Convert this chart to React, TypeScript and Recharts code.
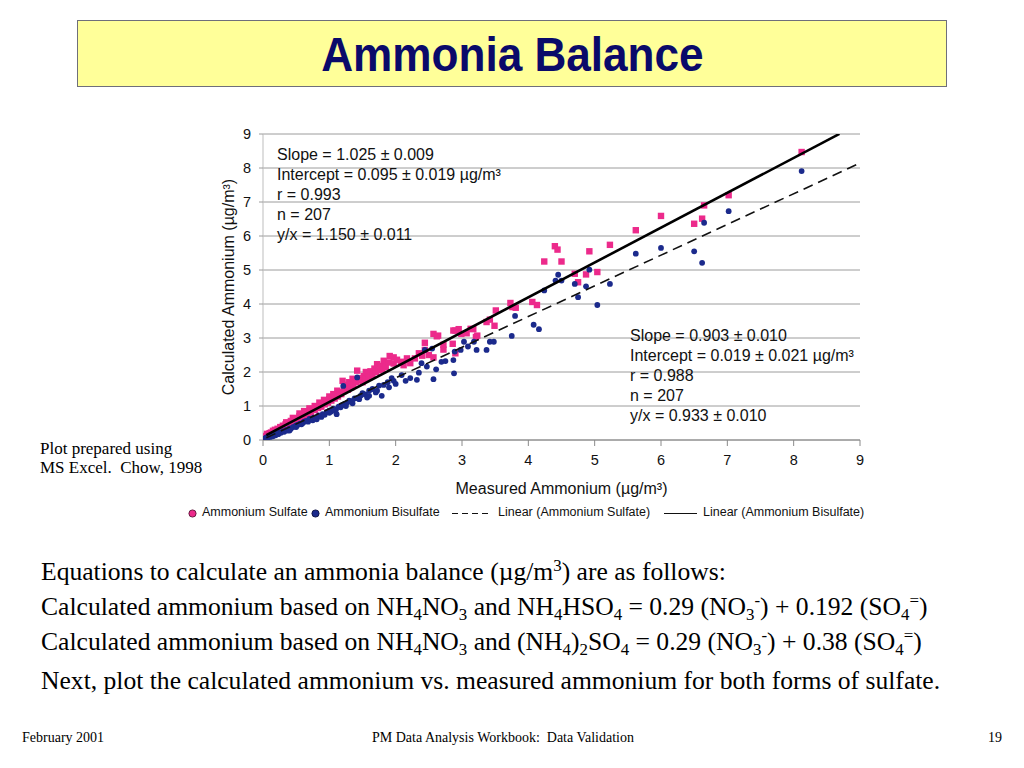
import React from 'react';
import { ScatterChart, Scatter, XAxis, YAxis, CartesianGrid, Legend } from 'recharts';

const SANS = '"Liberation Sans", Arial, sans-serif';
const SERIF = '"Liberation Serif", "Times New Roman", serif';

const PINK = '#EC2A8B';
const BLUE = '#1B2A8C';

const xTicks = [0, 1, 2, 3, 4, 5, 6, 7, 8, 9];
const yTicks = [0, 1, 2, 3, 4, 5, 6, 7, 8, 9];

// Ammonium Sulfate (pink squares) [measured, calculated]
const sulfatePoints: [number, number][] = [
  [0.03, 0.10], [0.05, 0.12], [0.06, 0.18], [0.08, 0.15], [0.10, 0.20], [0.12, 0.22], [0.13, 0.16],
  [0.15, 0.27], [0.17, 0.22], [0.18, 0.30], [0.20, 0.26], [0.22, 0.33], [0.24, 0.30], [0.26, 0.38],
  [0.28, 0.34], [0.30, 0.42], [0.32, 0.38], [0.34, 0.46], [0.35, 0.52], [0.36, 0.44], [0.38, 0.50],
  [0.40, 0.47], [0.42, 0.56], [0.44, 0.52], [0.45, 0.65], [0.46, 0.60], [0.48, 0.57], [0.50, 0.64],
  [0.52, 0.62], [0.55, 0.70], [0.55, 0.78], [0.57, 0.66], [0.60, 0.74], [0.62, 0.71], [0.62, 0.85],
  [0.65, 0.80], [0.68, 0.77], [0.70, 0.86], [0.70, 0.93], [0.72, 0.82], [0.75, 0.90], [0.78, 0.88],
  [0.78, 1.00], [0.80, 0.97], [0.83, 0.94], [0.85, 1.10], [0.86, 1.02], [0.88, 0.98], [0.90, 1.08],
  [0.92, 1.18], [0.93, 1.05], [0.96, 1.14], [0.98, 1.10], [1.00, 1.20], [1.00, 1.28], [1.03, 1.16],
  [1.05, 1.26], [1.06, 1.35], [1.08, 1.22], [1.10, 1.33], [1.12, 1.45], [1.13, 1.28], [1.16, 1.40],
  [1.18, 1.35], [1.20, 1.74], [1.22, 1.44], [1.25, 1.52], [1.25, 1.62], [1.28, 1.48], [1.30, 1.58],
  [1.30, 1.70], [1.33, 1.55], [1.35, 1.80], [1.36, 1.64], [1.40, 1.70], [1.42, 2.04], [1.44, 1.76],
  [1.48, 1.82], [1.50, 1.70], [1.52, 1.88], [1.55, 1.80], [1.55, 2.00], [1.58, 1.95], [1.60, 1.85],
  [1.62, 2.02], [1.65, 1.92], [1.68, 2.10], [1.70, 2.00], [1.72, 2.23], [1.75, 2.05], [1.78, 2.18],
  [1.80, 2.08], [1.82, 2.33], [1.85, 2.15], [1.91, 2.47], [1.90, 2.28], [1.97, 2.43], [1.97, 2.25],
  [2.02, 2.36], [2.08, 2.30], [2.12, 2.20],
  [2.17, 2.40], [2.22, 2.26], [2.29, 2.40], [2.35, 2.55], [2.40, 2.48], [2.44, 2.86], [2.44, 2.65],
  [2.50, 2.50], [2.57, 2.43], [2.57, 3.12], [2.62, 3.05], [2.64, 3.07], [2.72, 2.66], [2.72, 2.80],
  [2.86, 2.83], [2.87, 3.22], [2.90, 2.55], [2.90, 3.22], [2.95, 3.26], [2.99, 3.12], [3.07, 3.14],
  [3.13, 3.27], [3.17, 3.26], [3.21, 3.03], [3.23, 3.07], [3.37, 3.47], [3.42, 3.54], [3.49, 3.36],
  [3.51, 3.81], [3.73, 4.03], [3.76, 3.91], [3.81, 3.89], [4.06, 4.06], [4.13, 3.97],
  [4.24, 5.25], [4.40, 5.70], [4.44, 5.60], [4.50, 5.25], [4.70, 4.89], [4.75, 4.64], [4.87, 4.87],
  [4.92, 5.55], [5.04, 4.94], [5.23, 5.74], [5.62, 6.17], [6.00, 6.59], [6.50, 6.36], [6.62, 6.51],
  [6.65, 6.90], [7.02, 7.20], [8.12, 8.47],
];

// Ammonium Bisulfate (blue dots) [measured, calculated]
const bisulfatePoints: [number, number][] = [
  [0.03, 0.05], [0.05, 0.08], [0.07, 0.06], [0.09, 0.10], [0.11, 0.09], [0.13, 0.13], [0.15, 0.11],
  [0.17, 0.16], [0.19, 0.14], [0.21, 0.19], [0.23, 0.17], [0.25, 0.22], [0.27, 0.21], [0.30, 0.26],
  [0.32, 0.24], [0.35, 0.30], [0.37, 0.28], [0.40, 0.34], [0.40, 0.28], [0.42, 0.33], [0.45, 0.38],
  [0.48, 0.40], [0.50, 0.43], [0.50, 0.38], [0.53, 0.45], [0.56, 0.48], [0.58, 0.46], [0.60, 0.50],
  [0.62, 0.54], [0.65, 0.56], [0.68, 0.54], [0.70, 0.62], [0.73, 0.60], [0.75, 0.58], [0.76, 0.66],
  [0.79, 0.64], [0.81, 0.61], [0.84, 0.72], [0.87, 0.70], [0.88, 0.68], [0.90, 0.76], [0.93, 0.74],
  [0.96, 0.82], [1.00, 0.86], [1.00, 0.80], [1.03, 0.84], [1.06, 0.92], [1.08, 0.88], [1.10, 0.90],
  [1.11, 0.76], [1.14, 0.98], [1.17, 0.96], [1.20, 1.03], [1.21, 1.59], [1.23, 1.06], [1.25, 1.00],
  [1.27, 1.10], [1.30, 1.16], [1.34, 1.14], [1.35, 1.08], [1.38, 1.22], [1.42, 1.84], [1.43, 1.23],
  [1.45, 1.20], [1.47, 1.30], [1.50, 1.38], [1.54, 1.34], [1.57, 1.25], [1.60, 1.45], [1.60, 1.30],
  [1.65, 1.50], [1.70, 1.40], [1.72, 1.45], [1.75, 1.60], [1.79, 1.30], [1.82, 1.62], [1.88, 1.70],
  [1.90, 1.55], [1.94, 1.82], [1.97, 1.74], [2.00, 1.65],
  [2.09, 1.91], [2.15, 1.74], [2.22, 1.82], [2.32, 1.77], [2.35, 1.98], [2.39, 2.26], [2.44, 2.65],
  [2.47, 2.16], [2.55, 2.69], [2.57, 1.79], [2.61, 2.08], [2.69, 2.30], [2.75, 2.32], [2.87, 2.35],
  [2.88, 1.96], [2.89, 2.60], [2.98, 2.65], [3.03, 2.89], [3.09, 2.75], [3.18, 2.89], [3.22, 2.65],
  [3.37, 2.65], [3.42, 2.89], [3.48, 2.89], [3.75, 3.06], [3.80, 3.65], [4.08, 3.39], [4.16, 3.26],
  [4.24, 4.40], [4.41, 4.69], [4.45, 4.86], [4.50, 4.69], [4.70, 4.59], [4.75, 4.20], [4.87, 4.52],
  [4.92, 5.01], [5.04, 3.97], [5.23, 4.59], [5.62, 5.48], [6.00, 5.65], [6.50, 5.55], [6.62, 5.21],
  [6.65, 6.39], [7.02, 6.73], [8.12, 7.91],
];

// Linear fits as printed on the chart
const solidFit = { slope: 1.025, intercept: 0.095, xRange: [0.05, 8.69] };
const dashedFit = { slope: 0.903, intercept: 0.019, xRange: [0.05, 9.0] };

const legendLabels = [
  'Ammonium Sulfate',
  'Ammonium Bisulfate',
  'Linear (Ammonium Sulfate)',
  'Linear (Ammonium Bisulfate)',
];

const statsUpper = [
  'Slope = 1.025 ± 0.009',
  'Intercept = 0.095 ± 0.019 µg/m³',
  'r = 0.993',
  'n = 207',
  'y/x = 1.150 ± 0.011',
];
const statsLower = [
  'Slope = 0.903 ± 0.010',
  'Intercept = 0.019 ± 0.021 µg/m³',
  'r = 0.988',
  'n = 207',
  'y/x = 0.933 ± 0.010',
];

const xTitle = 'Measured Ammonium (µg/m³)';
const yTitle = 'Calculated Ammonium (µg/m³)';

const toXY = (pts: [number, number][]) => pts.map(([x, y]) => ({ x, y }));
const fitLine = (f: { slope: number; intercept: number; xRange: number[] }) =>
  f.xRange.map((x) => ({ x, y: f.intercept + f.slope * x }));

const PinkSquare = (p: any) => (
  <rect x={p.cx - 3.2} y={p.cy - 3.2} width={6.4} height={6.4} fill={PINK} />
);
const BlueDot = (p: any) => <circle cx={p.cx} cy={p.cy} r={2.9} fill={BLUE} />;
const NoShape = () => <g />;

const LegendContent = () => (
  <div style={{ position: 'relative', height: 16, fontFamily: SANS, fontSize: 12.5, color: '#111', whiteSpace: 'nowrap' }}>
    <svg style={{ position: 'absolute', left: 188, top: 4 }} width={9} height={9}>
      <circle cx={4.5} cy={4.5} r={3.6} fill={PINK} stroke="#5a1236" strokeWidth={0.9} />
    </svg>
    <span style={{ position: 'absolute', left: 202, top: 0 }}>{legendLabels[0]}</span>
    <svg style={{ position: 'absolute', left: 311, top: 4 }} width={9} height={9}>
      <circle cx={4.5} cy={4.5} r={3.6} fill={BLUE} stroke="#0a0f40" strokeWidth={0.9} />
    </svg>
    <span style={{ position: 'absolute', left: 325, top: 0 }}>{legendLabels[1]}</span>
    <svg style={{ position: 'absolute', left: 452, top: 4 }} width={40} height={9}>
      <line x1={0} y1={4.5} x2={38} y2={4.5} stroke="#111" strokeWidth={1.2} strokeDasharray="6 4" />
    </svg>
    <span style={{ position: 'absolute', left: 498, top: 0 }}>{legendLabels[2]}</span>
    <svg style={{ position: 'absolute', left: 664, top: 4 }} width={36} height={9}>
      <line x1={0} y1={4.5} x2={33} y2={4.5} stroke="#111" strokeWidth={1.2} />
    </svg>
    <span style={{ position: 'absolute', left: 703, top: 0 }}>{legendLabels[3]}</span>
  </div>
);

const sub = (t: string) => (
  <sub style={{ fontSize: '0.66em', verticalAlign: '-0.3em', lineHeight: 0 }}>{t}</sub>
);
const sup = (t: string) => (
  <sup style={{ fontSize: '0.66em', verticalAlign: '0.55em', lineHeight: 0 }}>{t}</sup>
);

export default function App() {
  return (
    <div style={{ position: 'absolute', left: 0, top: 0, width: 1024, height: 768, background: '#fff', overflow: 'hidden' }}>
      {/* Title box */}
      <div
        style={{
          position: 'absolute', left: 77, top: 20, width: 868, height: 65,
          background: '#FFFF99', border: '1.5px solid #6f6f7a',
          display: 'flex', alignItems: 'center', justifyContent: 'center',
        }}
      >
        <span style={{ fontFamily: SANS, fontWeight: 700, fontSize: 49, color: '#0A0A6A', display: 'inline-block', transform: 'scaleX(0.9)' }}>
          Ammonia Balance
        </span>
      </div>

      {/* Chart */}
      <div style={{ position: 'absolute', left: 0, top: 0 }}>
        <ScatterChart width={1024} height={768} margin={{ top: 134, right: 164, bottom: 298, left: 223 }}>
          <CartesianGrid horizontal vertical={false} stroke="#9c9c9c" />
          <XAxis
            type="number"
            dataKey="x"
            domain={[0, 9]}
            ticks={xTicks}
            allowDataOverflow
            height={30}
            tickSize={6}
            tickMargin={9}
            axisLine={{ stroke: '#8a8a8a' }}
            tickLine={{ stroke: '#8a8a8a' }}
            tick={{ fill: '#111', fontSize: 14.5, fontFamily: SANS }}
            label={{ value: xTitle, position: 'bottom', offset: 13, style: { fontFamily: SANS, fontSize: 16, fill: '#111' } }}
          />
          <YAxis
            type="number"
            dataKey="y"
            domain={[0, 9]}
            ticks={yTicks}
            allowDataOverflow
            width={40}
            tickSize={4}
            tickMargin={8}
            axisLine={{ stroke: '#bdbdbd' }}
            tickLine={{ stroke: '#9c9c9c' }}
            tick={{ fill: '#111', fontSize: 14.5, fontFamily: SANS }}
            label={{ value: yTitle, angle: -90, position: 'insideLeft', offset: 5, style: { textAnchor: 'middle', fontFamily: SANS, fontSize: 16, fill: '#111' } }}
          />
          <Scatter name={legendLabels[0]} data={toXY(sulfatePoints)} shape={PinkSquare} isAnimationActive={false} />
          <Scatter name={legendLabels[1]} data={toXY(bisulfatePoints)} shape={BlueDot} isAnimationActive={false} />
          <Scatter
            name={legendLabels[2]}
            data={fitLine(dashedFit)}
            shape={NoShape}
            line={{ stroke: '#111', strokeWidth: 1.6, strokeDasharray: '10 6' }}
            isAnimationActive={false}
          />
          <Scatter
            name={legendLabels[3]}
            data={fitLine(solidFit)}
            shape={NoShape}
            line={{ stroke: '#000', strokeWidth: 2.6 }}
            isAnimationActive={false}
          />
          <Legend
            layout="horizontal"
            verticalAlign="middle"
            align="center"
            content={LegendContent}
            wrapperStyle={{ left: 0, top: 505, width: 1024, height: 16 }}
          />
        </ScatterChart>
      </div>

      {/* Regression statistics */}
      <div style={{ position: 'absolute', left: 277, top: 145, fontFamily: SANS, fontSize: 16, lineHeight: '20px', color: '#111', whiteSpace: 'nowrap' }}>
        {statsUpper.map((s) => (
          <div key={s}>{s}</div>
        ))}
      </div>
      <div style={{ position: 'absolute', left: 630, top: 326, fontFamily: SANS, fontSize: 16, lineHeight: '20px', color: '#111', whiteSpace: 'nowrap' }}>
        {statsLower.map((s) => (
          <div key={s}>{s}</div>
        ))}
      </div>

      {/* Side note */}
      <div style={{ position: 'absolute', left: 40, top: 439, fontFamily: SERIF, fontSize: 17, lineHeight: '19px', color: '#000', whiteSpace: 'pre' }}>
        <div>Plot prepared using</div>
        <div>MS Excel.  Chow, 1998</div>
      </div>

      {/* Body text */}
      <div style={{ position: 'absolute', left: 41, top: 556, fontFamily: SERIF, fontSize: 25.6, color: '#000', whiteSpace: 'nowrap' }}>
        <div style={{ height: 35, lineHeight: '32px' }}>
          Equations to calculate an ammonia balance (µg/m{sup('3')}) are as follows:
        </div>
        <div style={{ height: 35, lineHeight: '32px' }}>
          Calculated ammonium based on NH{sub('4')}NO{sub('3')} and NH{sub('4')}HSO{sub('4')} = 0.29 (NO{sub('3')}{sup('-')}) + 0.192 (SO{sub('4')}{sup('=')})
        </div>
        <div style={{ height: 39, lineHeight: '32px' }}>
          Calculated ammonium based on NH{sub('4')}NO{sub('3')} and (NH{sub('4')}){sub('2')}SO{sub('4')} = 0.29 (NO{sub('3')}{sup('-')}) + 0.38 (SO{sub('4')}{sup('=')})
        </div>
        <div style={{ height: 35, lineHeight: '32px' }}>
          Next, plot the calculated ammonium vs. measured ammonium for both forms of sulfate.
        </div>
      </div>

      {/* Footer */}
      <div style={{ position: 'absolute', left: 22, top: 730, fontFamily: SERIF, fontSize: 14, lineHeight: '16px', whiteSpace: 'pre' }}>
        February 2001
      </div>
      <div style={{ position: 'absolute', left: 372, top: 730, fontFamily: SERIF, fontSize: 14, lineHeight: '16px', whiteSpace: 'pre' }}>
        PM Data Analysis Workbook:  Data Validation
      </div>
      <div style={{ position: 'absolute', left: 988, top: 730, fontFamily: SERIF, fontSize: 14, lineHeight: '16px', whiteSpace: 'pre' }}>
        19
      </div>
    </div>
  );
}
